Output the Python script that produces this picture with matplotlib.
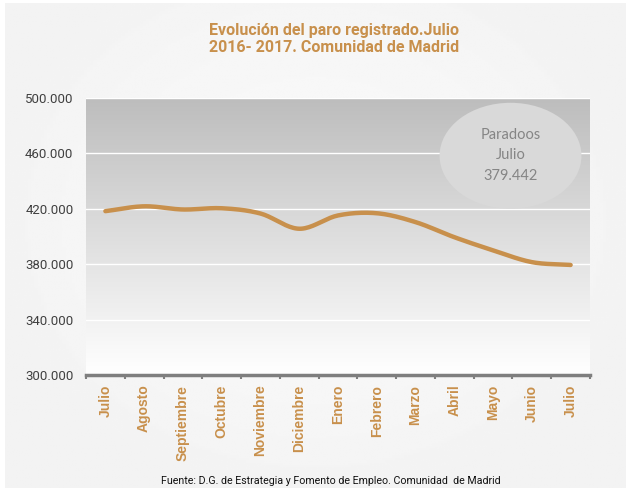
import numpy as np
import matplotlib
matplotlib.use('Agg')
import matplotlib.pyplot as plt
from matplotlib.patches import Ellipse
from matplotlib.colors import LinearSegmentedColormap

# data
meses = ['Julio', 'Agosto', 'Septiembre', 'Octubre', 'Noviembre', 'Diciembre',
         'Enero', 'Febrero', 'Marzo', 'Abril', 'Mayo', 'Junio', 'Julio']
parados = [418300, 421800, 419500, 420400, 416600, 405600,
           415200, 416800, 410400, 399500, 390000, 381500, 379442]
yticks = [300000, 340000, 380000, 420000, 460000, 500000]

orange = '#c8904c'
narrow = ['Roboto', 'DejaVu Sans']


def smooth(x, y, n=20):
    # catmull-rom smoothing, like the excel "smoothed line"
    x = np.asarray(x, float); y = np.asarray(y, float)
    px = np.concatenate([[2*x[0]-x[1]], x, [2*x[-1]-x[-2]]])
    py = np.concatenate([[2*y[0]-y[1]], y, [2*y[-1]-y[-2]]])
    xs, ys = [], []
    t = np.linspace(0, 1, n, endpoint=False)
    for i in range(1, len(px)-2):
        for P, out in ((px, xs), (py, ys)):
            p0, p1, p2, p3 = P[i-1], P[i], P[i+1], P[i+2]
            out.extend(0.5*((2*p1) + (-p0+p2)*t + (2*p0-5*p1+4*p2-p3)*t**2
                            + (-p0+3*p1-3*p2+p3)*t**3))
    xs.append(x[-1]); ys.append(y[-1])
    return np.array(xs), np.array(ys)


fig = plt.figure(figsize=(6.31, 4.91), dpi=100)
fig.patch.set_facecolor('white')

# soft background panel
bg = fig.add_axes([5/631, 3/491, 621/631, 485/491], zorder=-10)
yy, xx = np.mgrid[0:1:200j, 0:1:200j]
vign = 0.975 - 0.025*np.clip(np.hypot((xx-0.5)/0.55, (yy-0.45)/0.6), 0, 1)**2
bg.imshow(vign, cmap='gray', vmin=0, vmax=1, extent=[0, 1, 0, 1], aspect='auto')
bg.axis('off')

ax = fig.add_axes([86/631, 1-375/491, 504/631, 277/491])
x = np.arange(len(meses))
ax.set_xlim(-0.5, len(meses)-0.5)
ax.set_ylim(300000, 500000)

# gradient fill of the plot area
grad = np.linspace(0, 1, 256).reshape(-1, 1)
ax.imshow(grad, cmap=LinearSegmentedColormap.from_list('g', ['#ffffff', '#bdbdbd'], N=256),
          extent=[-0.5, len(meses)-0.5, 300000, 500000], aspect='auto', origin='lower', zorder=0)

for v in yticks[1:]:
    ax.axhline(v, color='white', lw=1, zorder=1)

sx, sy = smooth(x, parados)
ax.plot(sx, sy, color=orange, lw=3.2, solid_capstyle='round', zorder=3)

ax.add_patch(Ellipse((10.45, 458300), 3.66, 76500, facecolor='#d9d9d9',
                     edgecolor='none', zorder=2))
ax.text(10.45, 458500, 'Paradoos\nJulio\n379.442', ha='center', va='center',
        color='#858585', fontsize=10.5, family='Lato', linespacing=1.55, zorder=4)

for s in ['top', 'right', 'left']:
    ax.spines[s].set_visible(False)
ax.spines['bottom'].set_color('#7f7f7f')
ax.spines['bottom'].set_linewidth(2.5)

ax.set_yticks(yticks)
ax.set_yticklabels([f'{v/1000:.0f}.000' for v in yticks], family=narrow,
                   fontsize=9.5, color='#404040')
ax.tick_params(axis='y', length=0, pad=9)

ax.set_xticks(np.arange(len(meses)+1) - 0.5, minor=True)
ax.set_xticks(x)
ax.set_xticklabels(meses, rotation=90, color=orange, fontweight='bold',
                   fontsize=10, family='Liberation Sans', va='top')
ax.tick_params(axis='x', which='major', length=0, pad=7)
ax.tick_params(axis='x', which='minor', length=3, width=1.5, color='#7f7f7f')

fig.text(334/631, 1-30/491, 'Evolución del paro registrado.Julio', ha='center', va='center',
         color=orange, fontsize=11.5, fontweight='bold', family=narrow)
fig.text(334/631, 1-48/491, '2016- 2017. Comunidad de Madrid', ha='center', va='center',
         color=orange, fontsize=11.5, fontweight='bold', family=narrow)
fig.text(331/631, 1-481/491, 'Fuente: D.G. de Estrategia y Fomento de Empleo. Comunidad  de Madrid',
         ha='center', va='center', color='#111111', fontsize=7.7, family=narrow)

fig.savefig('out.png', dpi=100, facecolor=fig.get_facecolor())
